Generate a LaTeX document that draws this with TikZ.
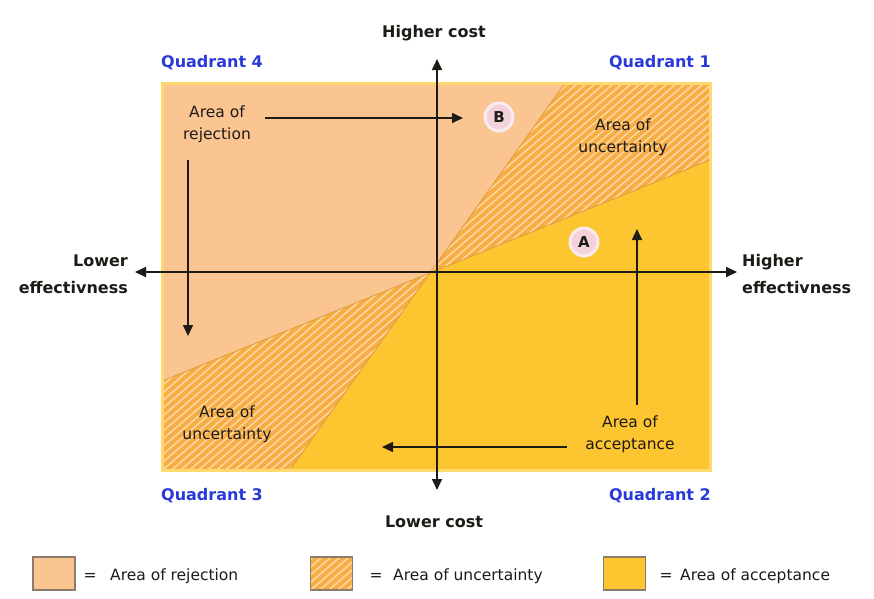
\documentclass[tikz,border=0pt]{standalone}
\usepackage{fontspec}
\setmainfont{DejaVu Sans}
\usetikzlibrary{arrows.meta}
\definecolor{rej}{HTML}{FBC591}
\definecolor{unc}{HTML}{F7AD42}
\definecolor{stripec}{HTML}{FCD7A2}
\definecolor{acc}{HTML}{FDC530}
\definecolor{framec}{HTML}{FDD96E}
\definecolor{qblue}{HTML}{2A3AD8}
\definecolor{ink}{HTML}{1E1A16}
\definecolor{pinkc}{HTML}{F4D2DC}
\definecolor{legline}{HTML}{8B7B6B}
\def\mystripes{\foreach \a in {-520,-511,...,820} \draw[stripec, line width=1.6pt] (\a,600) -- ++(700,-600);}
\begin{document}
\begin{tikzpicture}[x=1pt,y=-1pt,
  lbl/.style={font=\fontsize{15.5}{22}\selectfont, text=ink, align=center, inner sep=0pt},
  axlbl/.style={font=\fontsize{16}{27}\selectfont\bfseries, text=ink, inner sep=0pt},
  quad/.style={font=\fontsize{16}{20}\selectfont\bfseries, text=qblue, inner sep=0pt},
  axisline/.style={draw=ink, line width=1.6pt, {Triangle[length=11pt,width=10pt]}-{Triangle[length=11pt,width=10pt]}},
  pointer/.style={draw=ink, line width=1.6pt, -{Triangle[length=11pt,width=10pt]}},
  letter/.style={circle, fill=pinkc, draw=pinkc!45!white, line width=3pt, minimum size=28pt, inner sep=0pt, font=\fontsize{15}{15}\selectfont\bfseries, text=ink},
  legbox/.style={draw=legline, line width=1.2pt, minimum width=42pt, minimum height=33pt, inner sep=0pt},
  legtxt/.style={font=\fontsize{15.5}{18}\selectfont, text=ink, inner sep=0pt, anchor=base west},
  eqs/.style={font=\fontsize{15.5}{18}\selectfont, text=ink, inner sep=0pt, anchor=base}
]
\useasboundingbox (0,0) rectangle (874,598);
\fill[white] (0,0) rectangle (874,598);

% region geometry
\coordinate (P) at (430,273);
\coordinate (T1) at (565,83);
\coordinate (B1) at (290,470);
\coordinate (R2) at (710,160);
\coordinate (L2) at (162,381);

\fill[rej] (162,83) rectangle (710,470);
\fill[acc] (P) -- (R2) -- (710,470) -- (B1) -- cycle;
\fill[unc] (P) -- (T1) -- (710,83) -- (R2) -- cycle;
\fill[unc] (P) -- (L2) -- (162,470) -- (B1) -- cycle;
\begin{scope}
  \clip (P) -- (T1) -- (710,83) -- (R2) -- cycle (P) -- (L2) -- (162,470) -- (B1) -- cycle;
  \mystripes
\end{scope}
\draw[unc!90!black, line width=0.8pt] (T1) -- (P) -- (R2) (L2) -- (P) -- (B1);
\draw[framec, line width=3pt] (162,83) rectangle (710,470);

% axes
\coordinate (xl) at (135,272);
\coordinate (xr) at (737,272);
\coordinate (yt) at (437,59);
\coordinate (yb) at (437,490);
\draw[axisline] (xl) -- (xr);
\draw[axisline] (yt) -- (yb);

% axis labels
\node[axlbl, anchor=base] (hc) at (434,37) {Higher cost};
\node[axlbl, anchor=base] (lc) at (434,527) {Lower cost};
\node[axlbl, align=right, anchor=east] (le) at (128,274) {Lower\\effectivness};
\node[axlbl, align=left, anchor=west] (he) at (742,274) {Higher\\effectivness};

% quadrant labels
\node[quad, anchor=base west] (q4) at (161,67) {Quadrant 4};
\node[quad, anchor=base east] (q1) at (711,67) {Quadrant 1};
\node[quad, anchor=base west] (q3) at (161,500) {Quadrant 3};
\node[quad, anchor=base east] (q2) at (711,500) {Quadrant 2};

% area labels
\node[lbl] (arej) at (217,124) {Area of\\rejection};
\node[lbl] (aunc1) at (623,137) {Area of\\uncertainty};
\node[lbl] (aunc2) at (227,424) {Area of\\uncertainty};
\node[lbl] (aacc) at (630,434) {Area of\\acceptance};

% points
\node[letter] (B) at (499,117) {B};
\node[letter] (A) at (584,242) {A};

% pointers
\coordinate (r1s) at (265,118);
\coordinate (r1e) at (463,118);
\coordinate (r2s) at (188,160);
\coordinate (r2e) at (188,336);
\coordinate (a1s) at (567,447);
\coordinate (a1e) at (382,447);
\coordinate (a2s) at (637,405);
\coordinate (a2e) at (637,229);
\draw[pointer] (r1s) -- (r1e);
\draw[pointer] (r2s) -- (r2e);
\draw[pointer] (a1s) -- (a1e);
\draw[pointer] (a2s) -- (a2e);

% legend
\node[legbox, fill=rej] (k1) at (54,573.5) {};
\node[eqs] (e1) at (90,580) {=};
\node[legtxt] (t1) at (110,580) {Area of rejection};

\node[legbox, fill=unc] (k2) at (331.5,573.5) {};
\begin{scope}
  \clip (k2.south west) rectangle (k2.north east);
  \mystripes
\end{scope}
\node[legbox] (k2b) at (331.5,573.5) {};
\node[eqs] (e2) at (376,580) {=};
\node[legtxt] (t2) at (393,580) {Area of uncertainty};

\node[legbox, fill=acc] (k3) at (624.5,573.5) {};
\node[eqs] (e3) at (666,580) {=};
\node[legtxt] (t3) at (680,580) {Area of acceptance};
\end{tikzpicture}
\end{document}
